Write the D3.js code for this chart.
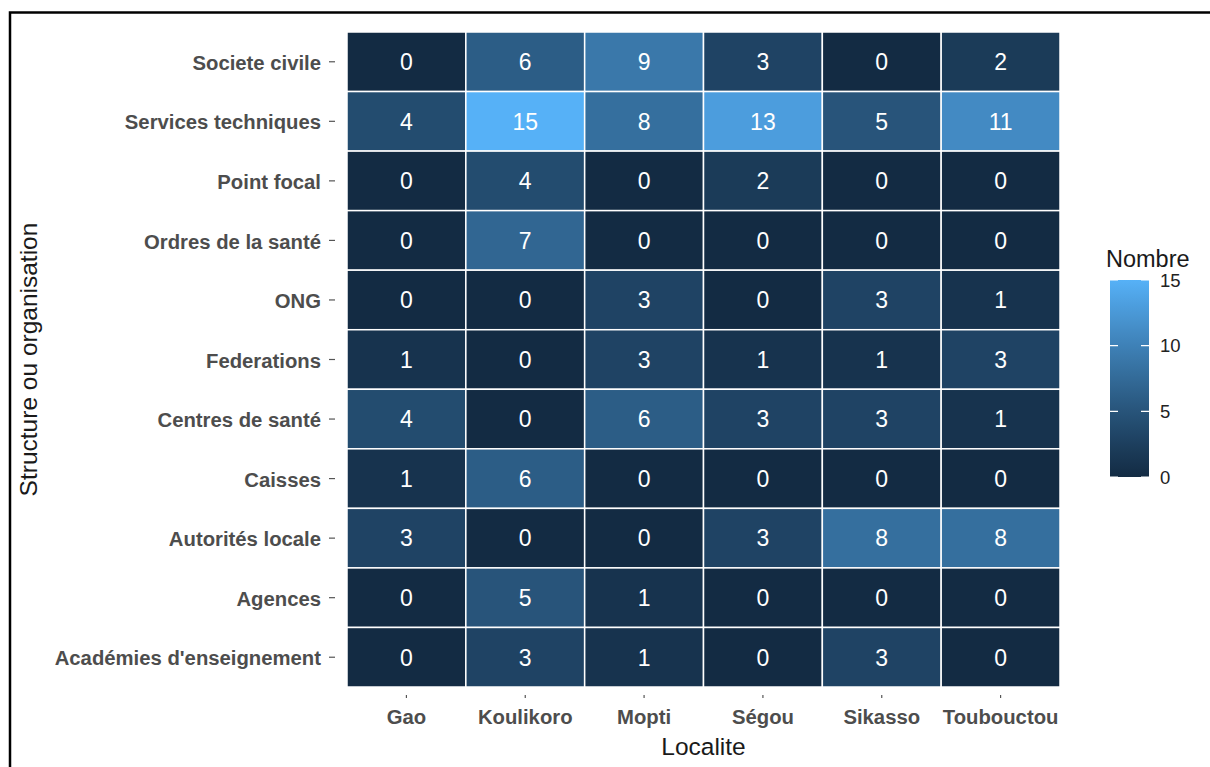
<!DOCTYPE html>
<html>
<head>
<meta charset="utf-8">
<script src="https://cdn.jsdelivr.net/npm/d3@7"></script>
<style>
  body { margin: 0; background: #fff; }
  svg { display: block; font-family: "Liberation Sans", Arial, sans-serif; }
</style>
</head>
<body>
<svg id="chart" width="1210" height="767"></svg>
<script>
// data, rows listed top to bottom
var localites = ["Gao", "Koulikoro", "Mopti", "Ségou", "Sikasso", "Toubouctou"],
  structures = ["Societe civile", "Services techniques", "Point focal", "Ordres de la santé",
    "ONG", "Federations", "Centres de santé", "Caisses", "Autorités locale", "Agences",
    "Académies d'enseignement"],
  nombres = [
    [0, 6, 9, 3, 0, 2],
    [4, 15, 8, 13, 5, 11],
    [0, 4, 0, 2, 0, 0],
    [0, 7, 0, 0, 0, 0],
    [0, 0, 3, 0, 3, 1],
    [1, 0, 3, 1, 1, 3],
    [4, 0, 6, 3, 3, 1],
    [1, 6, 0, 0, 0, 0],
    [3, 0, 0, 3, 8, 8],
    [0, 5, 1, 0, 0, 0],
    [0, 3, 1, 0, 3, 0]
  ],
  legendTicks = [0, 5, 10, 15];

var svg = d3.select("#chart");

// frame round the picture (open on right and bottom)
svg.append("path")
  .attr("d", "M10,767 V12.5 H1210")
  .attr("fill", "none")
  .attr("stroke", "#000")
  .attr("stroke-width", 2.5);

var panel = {left: 347, top: 32, right: 1060, bottom: 687};

var x = d3.scaleBand().domain(localites).range([panel.left, panel.right]),
  y = d3.scaleBand().domain(structures).range([panel.top, panel.bottom]),
  color = d3.scaleLinear().domain([0, 15]).range(["#132B43", "#56B1F7"])
    .interpolate(d3.interpolateLab);

var cells = [];
structures.forEach(function(s, i){
  localites.forEach(function(l, j){
    cells.push({structure: s, localite: l, value: nombres[i][j]});
  });
});

var cell = svg.append("g").selectAll("g")
  .data(cells)
  .join("g");

cell.append("rect")
  .attr("x", function(d){ return x(d.localite); })
  .attr("y", function(d){ return y(d.structure); })
  .attr("width", x.bandwidth())
  .attr("height", y.bandwidth())
  .attr("fill", function(d){ return color(d.value); })
  .attr("stroke", "#fff")
  .attr("stroke-width", 1.5);

cell.append("text")
  .attr("x", function(d){ return x(d.localite) + x.bandwidth() / 2; })
  .attr("y", function(d){ return y(d.structure) + y.bandwidth() / 2; })
  .attr("dy", "0.36em")
  .attr("text-anchor", "middle")
  .attr("fill", "#fff")
  .attr("font-size", 23)
  .text(function(d){ return d.value; });

// axes, drawn with a gap like the reference
var xAxis = svg.append("g")
  .attr("transform", "translate(0," + (panel.bottom + 8) + ")")
  .call(d3.axisBottom(x).tickSize(3).tickPadding(12));

var yAxis = svg.append("g")
  .attr("transform", "translate(" + (panel.left - 12) + ",0)")
  .call(d3.axisLeft(y).tickSize(6).tickPadding(8));

[xAxis, yAxis].forEach(function(ax){
  ax.select(".domain").remove();
  ax.selectAll(".tick line").attr("stroke", "#555").attr("stroke-width", 1.2);
  ax.selectAll(".tick text")
    .attr("fill", "#4D4D4D")
    .attr("font-size", 20.3)
    .attr("font-weight", "bold")
    .attr("font-family", "Liberation Sans, Arial, sans-serif");
});
yAxis.selectAll(".tick text").attr("dy", "0.4em");

// axis titles
svg.append("text")
  .attr("x", (panel.left + panel.right) / 2)
  .attr("y", 755)
  .attr("text-anchor", "middle")
  .attr("font-size", 24.5)
  .attr("fill", "#1a1a1a")
  .text("Localite");

svg.append("text")
  .attr("transform", "translate(37," + ((panel.top + panel.bottom) / 2) + ") rotate(-90)")
  .attr("text-anchor", "middle")
  .attr("font-size", 24.5)
  .attr("fill", "#1a1a1a")
  .text("Structure ou organisation");

// legend colorbar
var bar = {x: 1110, w: 39, top: 280, bottom: 477},
  ly = d3.scaleLinear().domain([0, 15]).range([bar.bottom, bar.top]);

var grad = svg.append("defs").append("linearGradient")
  .attr("id", "nombre-grad")
  .attr("x1", 0).attr("y1", 1).attr("x2", 0).attr("y2", 0);

grad.selectAll("stop")
  .data(d3.range(0, 15.01, 1))
  .join("stop")
  .attr("offset", function(d){ return d / 15; })
  .attr("stop-color", function(d){ return color(d); });

svg.append("rect")
  .attr("x", bar.x)
  .attr("y", bar.top)
  .attr("width", bar.w)
  .attr("height", bar.bottom - bar.top)
  .attr("fill", "url(#nombre-grad)");

var lt = svg.append("g").selectAll("g")
  .data(legendTicks)
  .join("g");

lt.append("path")
  .attr("d", function(d){
    var yy = ly(d);
    return "M" + bar.x + "," + yy + "h8M" + (bar.x + bar.w) + "," + yy + "h-8";
  })
  .attr("stroke", "#fff")
  .attr("stroke-width", 1.2);

lt.append("text")
  .attr("x", bar.x + bar.w + 11)
  .attr("y", function(d){ return ly(d); })
  .attr("dy", "0.36em")
  .attr("font-size", 18.5)
  .attr("fill", "#222")
  .text(function(d){ return d; });

svg.append("text")
  .attr("x", 1106)
  .attr("y", 267)
  .attr("font-size", 23.5)
  .attr("fill", "#1a1a1a")
  .text("Nombre");
</script>
</body>
</html>
